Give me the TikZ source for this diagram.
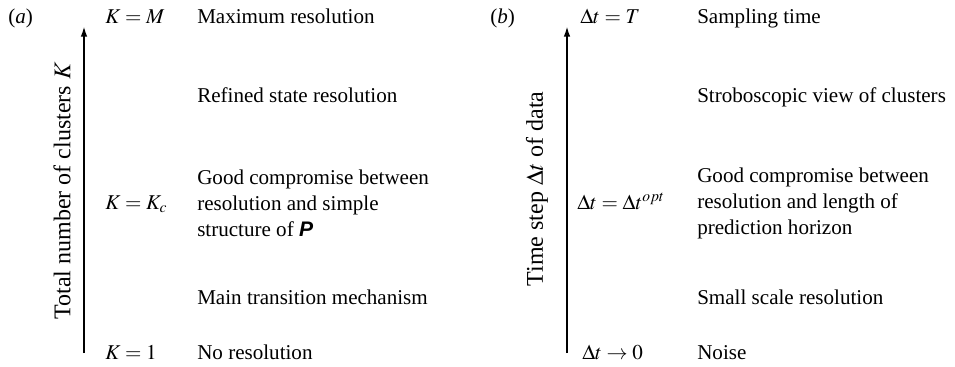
\documentclass[tikz,border=0pt]{standalone}
\usepackage{amsmath}
\usepackage{mathptmx}
\usepackage{fontspec}
\setmainfont{Liberation Serif}
\setsansfont{Liberation Sans}
\newfontfamily\timesrm{Liberation Serif}
\usepackage{tikz}
\usetikzlibrary{arrows.meta}

\tikzset{
  txt/.style={anchor=base west,inner sep=0pt,font=\timesrm\fontsize{15.8}{19.5}\selectfont},
  blk/.style={anchor=west,inner sep=0pt,align=left,font=\timesrm\fontsize{15.8}{19.5}\selectfont},
  axlab/.style={rotate=90,inner sep=0pt,font=\timesrm\fontsize{18}{22}\selectfont},
  axis/.style={line width=1.5pt,-{Latex[length=8pt,width=5pt]}}
}

\begin{document}
\begin{tikzpicture}[x=0.75pt,y=-0.75pt]
  \useasboundingbox (0,0) rectangle (955,367);
  % panel (a)
  \node[txt] (la) at (8,24) {(\textit{a})};
  \coordinate (abot) at (84,353);
  \coordinate (atop) at (84,26);
  \draw[axis] (abot) -- (atop);
  \node[axlab] (axa) at (62,191) {Total number of clusters $K$};
  \node[txt] (kM) at (105,24) {$K=M$};
  \node[txt] (kc) at (105,209) {$K=K_c$};
  \node[txt] (k1) at (105,359) {$K=1$};
  \foreach \n/\y/\t in {a1/24/Maximum resolution,a2/103/Refined state resolution,
      a4/304/Main transition mechanism,a5/359/No resolution}
    {\node[txt] (\n) at (197,\y) {\t};}
  \node[blk] (a3) at (197,203) {Good compromise between\\resolution and simple\\structure of \textsf{\bfseries\itshape P}};
  % panel (b)
  \node[txt] (lb) at (490,24) {(\textit{b})};
  \coordinate (bbot) at (567,353);
  \coordinate (btop) at (567,26);
  \draw[axis] (bbot) -- (btop);
  \node[axlab] (axb) at (537,189) {Time step $\Delta t$ of data};
  \node[txt] (tT) at (580,24) {$\Delta t=T$};
  \node[txt] (topt) at (577,209) {$\Delta t=\Delta t^{opt}$};
  \node[txt] (t0) at (582,359) {$\Delta t\to 0$};
  \foreach \n/\y/\t in {b1/24/Sampling time,b2/103/Stroboscopic view of clusters,
      b4/304/Small scale resolution,b5/359/Noise}
    {\node[txt] (\n) at (697,\y) {\t};}
  \node[blk] (b3) at (697,203) {Good compromise between\\resolution and length of\\prediction horizon};
\end{tikzpicture}
\end{document}
